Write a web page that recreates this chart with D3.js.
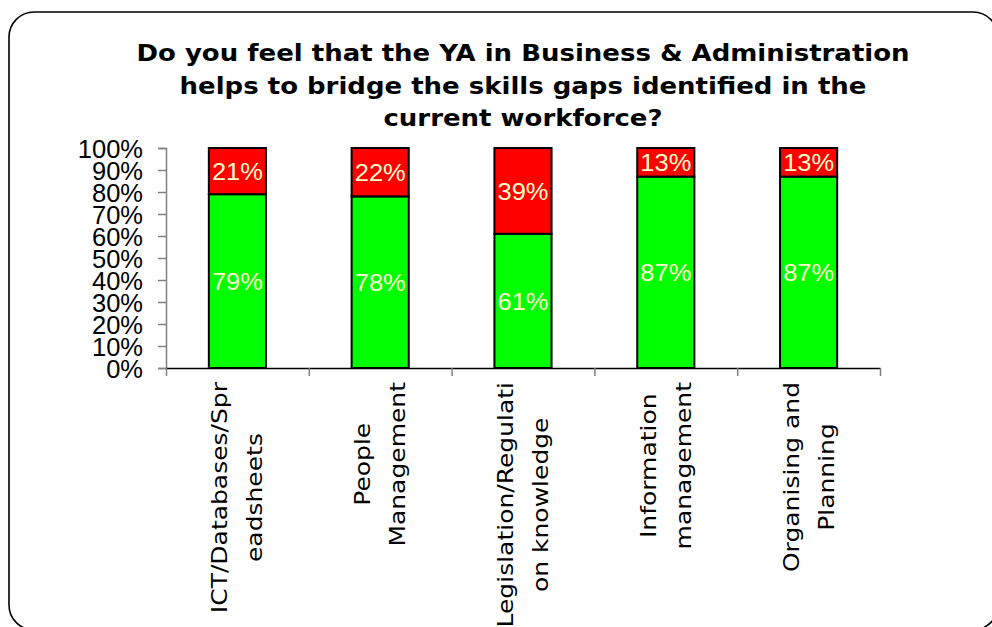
<!DOCTYPE html>
<html>
<head>
<meta charset="utf-8">
<script src="https://cdn.jsdelivr.net/npm/d3@7"></script>
<style>
  html, body { margin: 0; padding: 0; background: #fff; }
  svg { display: block; }
</style>
</head>
<body>
<svg id="chart" width="992" height="627"></svg>
<script>
// Skill areas, each split into the lines shown under the axis
const categoryLines = [
  ["ICT/Databases/Spr", "eadsheets"],
  ["People", "Management"],
  ["Legislation/Regulati", "on knowledge"],
  ["Information", "management"],
  ["Organising and", "Planning"]
];
const categories = categoryLines.map(l => l.join(" "));
const yesValues = [79, 78, 61, 87, 87];
const noValues = [21, 22, 39, 13, 13];
const seriesNames = ["Yes", "No"];
const seriesColors = ["#00ff00", "#ff0000"];
const yTicks = [0, 0.1, 0.2, 0.3, 0.4, 0.5, 0.6, 0.7, 0.8, 0.9, 1];
const titleLines = [
  "Do you feel that the YA in Business & Administration",
  "helps to bridge the skills gaps identified in the",
  "current workforce?"
];

const svg = d3.select("#chart");
const plot = { left: 166, right: 880, top: 148, bottom: 368 };

// rounded frame around the chart
svg.append("rect")
  .attr("x", 9).attr("y", 12)
  .attr("width", 989).attr("height", 618)
  .attr("rx", 25).attr("ry", 25)
  .attr("fill", "#fff")
  .attr("stroke", "#000")
  .attr("stroke-width", 1.6);

// title
const title = svg.append("g").attr("transform", "translate(523,0)");
titleLines.forEach((t, i) => {
  title.append("text")
    .attr("transform", `translate(0,${61 + i * 32.7}) scale(1.13,1)`)
    .attr("text-anchor", "middle")
    .attr("font-family", "'DejaVu Sans', Verdana, sans-serif")
    .attr("font-weight", "bold")
    .attr("font-size", 23)
    .attr("fill", "#000")
    .text(t);
});

const x = d3.scaleBand()
  .domain(categories)
  .range([plot.left, plot.right])
  .paddingInner(0.6)
  .paddingOuter(0.3);

const y = d3.scaleLinear().domain([0, 1]).range([plot.bottom, plot.top]);

// stacked shares per category
const rows = categories.map((c, i) => ({ category: c, Yes: yesValues[i] / 100, No: noValues[i] / 100 }));
const stacked = d3.stack().keys(seriesNames)(rows);

// y axis
const yAxis = svg.append("g")
  .attr("transform", `translate(${plot.left},0)`)
  .call(d3.axisLeft(y).tickValues(yTicks).tickFormat(d3.format(".0%")).tickSize(8).tickPadding(15));
yAxis.select(".domain").attr("stroke", "#808080").attr("stroke-width", 1.5);
yAxis.selectAll(".tick line").attr("stroke", "#808080").attr("stroke-width", 1.5);
yAxis.selectAll(".tick text")
  .attr("font-family", "'Liberation Sans', Arial, sans-serif")
  .attr("font-size", 25.5)
  .attr("fill", "#000")
  .attr("dy", "0.36em");

// x axis: tick marks at category boundaries
const xBound = d3.scaleLinear().domain([0, categories.length]).range([plot.left, plot.right]);
const xAxis = svg.append("g")
  .attr("transform", `translate(0,${plot.bottom})`)
  .call(d3.axisBottom(xBound).tickValues(d3.range(categories.length + 1)).tickFormat("").tickSize(8).tickSizeOuter(0));
xAxis.select(".domain").attr("stroke", "#000").attr("stroke-width", 1.5);
xAxis.selectAll(".tick line").attr("stroke", "#808080").attr("stroke-width", 1.5);

// bars
const layers = svg.append("g").selectAll("g")
  .data(stacked)
  .join("g")
  .attr("fill", (d, i) => seriesColors[i]);

layers.selectAll("rect")
  .data(d => d)
  .join("rect")
  .attr("x", d => x(d.data.category))
  .attr("width", x.bandwidth())
  .attr("y", d => y(d[1]))
  .attr("height", d => y(d[0]) - y(d[1]))
  .attr("stroke", "#000")
  .attr("stroke-width", 2);

// value labels in the middle of each segment
layers.selectAll("text")
  .data(d => d.map(v => ({ v, key: d.key })))
  .join("text")
  .attr("transform", d => `translate(${x(d.v.data.category) + x.bandwidth() / 2},${y((d.v[0] + d.v[1]) / 2)}) scale(1.06,1)`)
  .attr("text-anchor", "middle")
  .attr("dy", "0.36em")
  .attr("font-family", "'Liberation Sans', Arial, sans-serif")
  .attr("font-size", 24)
  .attr("fill", "#ffffcc")
  .text(d => d3.format(".0%")(d.v.data[d.key]));

// rotated category labels, block anchored just below the axis
const labelTop = 382;
const lineGap = 35;
categoryLines.forEach((lines, i) => {
  const cx = x(categories[i]) + x.bandwidth() / 2;
  const g = svg.append("g")
    .attr("transform", `translate(${cx},${labelTop}) rotate(-90) scale(1.19,1)`);
  const texts = lines.map((line, j) => g.append("text")
    .attr("text-anchor", "middle")
    .attr("dy", "0.36em")
    .attr("y", (j - (lines.length - 1) / 2) * lineGap)
    .attr("font-family", "'DejaVu Sans', Verdana, sans-serif")
    .attr("font-size", 21)
    .attr("fill", "#000")
    .text(line));
  const maxLen = d3.max(texts, t => t.node().getComputedTextLength());
  texts.forEach(t => t.attr("x", -maxLen / 2));
});
</script>
</body>
</html>
